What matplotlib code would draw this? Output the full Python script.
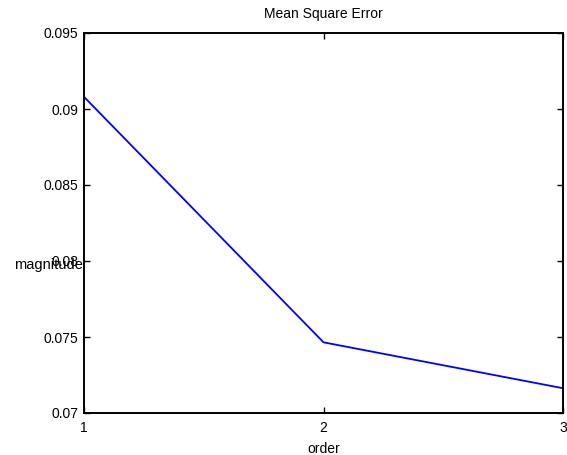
import matplotlib
matplotlib.use('Agg')
import matplotlib.pyplot as plt

plt.rcParams['font.family'] = ['Liberation Sans', 'DejaVu Sans']

order = [1, 2, 3]
mse = [0.0908, 0.07465, 0.07163]
xticks = [1, 2, 3]
yticks = [0.07, 0.075, 0.08, 0.085, 0.09, 0.095]
ytick_labels = ['0.07', '0.075', '0.08', '0.085', '0.09', '0.095']

fig = plt.figure(figsize=(5.67, 4.55), dpi=100)
ax = fig.add_axes([84/567, 1 - 413/455, (563-84)/567, (413-33)/455])
ax.plot(order, mse, color='#0000ff', lw=1.3)
ax.set_xlim(1, 3)
ax.set_ylim(0.07, 0.095)
ax.set_xticks(xticks)
ax.set_xticklabels([str(t) for t in xticks])
ax.set_yticks(yticks)
ax.set_yticklabels(ytick_labels)
ax.tick_params(direction='in', length=4, width=1.0, top=True, right=True, labelsize=10)
ax.tick_params(axis='y', pad=4)
ax.tick_params(axis='x', pad=6)
for s in ax.spines.values():
    s.set_linewidth(1.4)
ax.set_title('Mean Square Error', fontsize=10, pad=11)
ax.set_xlabel('order', fontsize=10, labelpad=5)
ax.set_ylabel('magnitude', fontsize=10.5, rotation=0, va='center')
ax.yaxis.set_label_coords(-0.075, 0.39)

fig.savefig('out.png', dpi=100)
